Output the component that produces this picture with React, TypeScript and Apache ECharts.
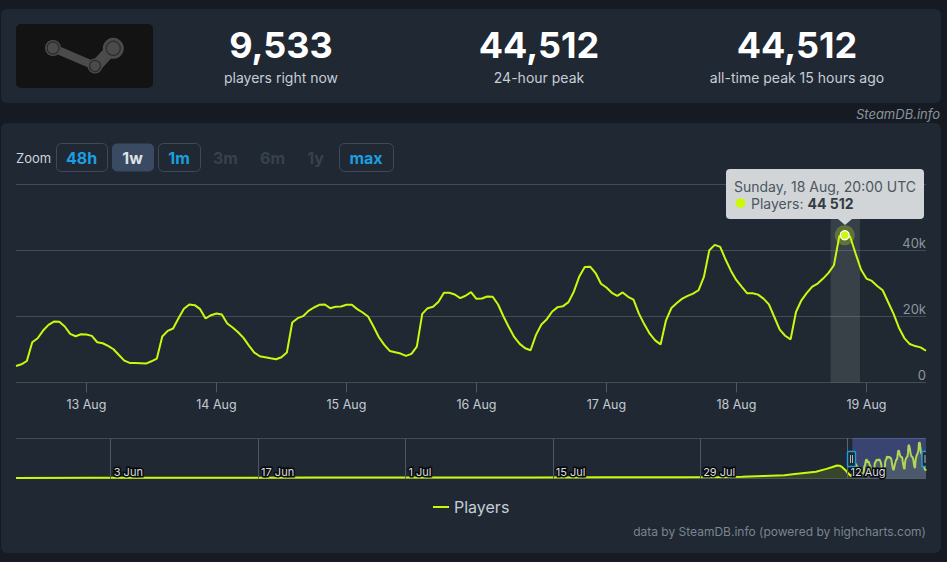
import React, { useEffect, useRef } from "react";
import * as echarts from "echarts";

const HOUR = 3600000;
const YEAR = " 2024 UTC";

const players = [
    5000, 5500, 6500, 12170, 13380, 15700, 17420, 18430, 18330, 16920, 14700, 13990, 14590, 14490,
    14090, 12170, 11870, 11060, 10050, 8330, 6620, 5910, 5910, 5810, 5710, 6410, 7220, 13890,
    15600, 16310, 19440, 22270, 23580, 23380, 22170, 19340, 20350, 20860, 20550, 17830, 16610,
    15200, 13480, 11160, 9040, 7930, 7630, 7320, 7020, 7630, 9040, 18130, 19440, 20050, 21660,
    22670, 23480, 23580, 22470, 22880, 22980, 23480, 23480, 22170, 21160, 19950, 16920, 13690,
    11360, 9540, 9140, 8740, 8030, 8640, 10860, 20760, 22470, 22880, 24390, 27120, 27120, 26610,
    25500, 26210, 27320, 25300, 25400, 26010, 25910, 23580, 19950, 16720, 13690, 11670, 10350,
    9750, 14390, 17520, 19140, 21460, 22780, 23080, 24290, 27520, 32070, 34900, 35000, 33080,
    29850, 28730, 27120, 26210, 27220, 25910, 25050, 20810, 17570, 14750, 12730, 11510, 18790,
    22520, 24040, 25350, 26160, 26870, 27880, 31920, 40000, 41610, 41010, 37170, 33730, 30910,
    28890, 26970, 26970, 26560, 25350, 23630, 19800, 15960, 14140, 13030, 21310, 24850, 27070,
    28990, 29900, 31410, 33130, 35450, 44240, 44512, 44040, 38990, 34140, 31410, 30700, 29190,
    27880, 24340, 20810, 16560, 13430, 11620, 11010, 10610, 9600,
];
const firstHour = "12 Aug 11:00";
const peakHour = "18 Aug 20:00";

// navigator history before the 1w window
const historyDates = [
    "25 May", "1 Jun", "8 Jun", "15 Jun", "22 Jun", "29 Jun", "6 Jul", "13 Jul", "20 Jul", "27 Jul",
    "1 Aug", "2 Aug", "4 Aug", "6 Aug", "7 Aug", "9 Aug", "10 Aug", "10 Aug 12:00", "11 Aug",
    "11 Aug 06:00", "11 Aug 12:00", "11 Aug 20:00", "12 Aug", "12 Aug 08:00",
];
const historyValues = [
    700, 800, 900, 1000, 1100, 1200, 1300, 1300, 1400, 1500,
    2000, 2300, 3100, 3900, 5500, 8300, 11900, 13800, 16000,
    15800, 14000, 10000, 7000, 3000,
];

const dayLabels = ["13 Aug", "14 Aug", "15 Aug", "16 Aug", "17 Aug", "18 Aug", "19 Aug"];
const navLabels = ["3 Jun", "17 Jun", "1 Jul", "15 Jul", "29 Jul", "12 Aug"];
const yLabels: Record<number, string> = { 0: "0", 20000: "20k", 40000: "40k", 60000: "" };

const stats = [
    { value: "9,533", label: "players right now", x: 281 },
    { value: "44,512", label: "24-hour peak", x: 539 },
    { value: "44,512", label: "all-time peak 15 hours ago", x: 797 },
];
const zoomButtons = [
    { text: "48h", x: 56.5, w: 51, state: "on" },
    { text: "1w", x: 112, w: 42, state: "active" },
    { text: "1m", x: 158.5, w: 42, state: "on" },
    { text: "3m", x: 205, w: 42, state: "off" },
    { text: "6m", x: 252, w: 42, state: "off" },
    { text: "1y", x: 300, w: 32, state: "off" },
    { text: "max", x: 339.5, w: 54, state: "on" },
];

const toTime = (s: string) => Date.parse(s + YEAR);
const FONT = "Inter, sans-serif";
const LIME = "#ccf80f";
const PANEL = "#1f2833";

const txt = (text: string, x: number, y: number, size: number, fill: string, extra: any = {}) => ({
    type: "text",
    z: 50,
    silent: true,
    style: {
        text,
        x,
        y,
        fill,
        fontFamily: FONT,
        fontSize: size,
        fontWeight: extra.weight || 400,
        fontStyle: extra.italic ? "italic" : "normal",
        textAlign: extra.align || "center",
        textVerticalAlign: "middle",
    },
});

const logo = () => {
    const gray = "#4b4b4b";
    const ring = "#2c2c2c";
    const bar = (x1: number, y1: number, x2: number, y2: number, w: number) => ({
        type: "line",
        z: -5,
        shape: { x1, y1, x2, y2 },
        style: { stroke: gray, lineWidth: w, lineCap: "round" },
    });
    const dot = (cx: number, cy: number, r: number, inner: number) => [
        { type: "circle", z: -5, shape: { cx, cy, r }, style: { fill: gray } },
        {
            type: "circle",
            z: -4,
            shape: { cx, cy, r: inner },
            style: { fill: gray, stroke: ring, lineWidth: 1.2 },
        },
    ];
    return [
        { type: "rect", z: -8, shape: { x: 16, y: 24, width: 137, height: 64, r: 5 }, style: { fill: "#131313" } },
        bar(53, 48, 95, 66, 8),
        bar(97, 65, 109, 52, 12),
        ...dot(53, 48, 8, 6),
        ...dot(95, 66, 7.5, 5.5),
        ...dot(113.3, 48.3, 10.5, 7),
    ];
};

const App: React.FC = () => {
    const chartRef = useRef<HTMLDivElement>(null);

    useEffect(() => {
        if (!chartRef.current) return;
        const chart = echarts.init(chartRef.current, undefined, { renderer: "svg" });

        const start = toTime(firstHour);
        const mainData = players.map((v, i) => [start + i * HOUR, v]);
        const end = start + (players.length - 1) * HOUR;
        const navData = [
            ...historyDates.map((d, i) => [toTime(d), historyValues[i]]),
            ...mainData,
        ];
        const peak = toTime(peakHour);
        const peakValue = Math.max(...players);
        const dayTicks = dayLabels.map(toTime);
        const navTicks = navLabels.map(toTime);
        const dateLabel = (v: number) => {
            const d = new Date(v);
            return d.getUTCDate() + " " + d.toLocaleString("en", { month: "short", timeZone: "UTC" });
        };

        const buttons: any[] = [];
        zoomButtons.forEach((b) => {
            if (b.state !== "off") {
                buttons.push({
                    type: "rect",
                    z: -5,
                    shape: { x: b.x, y: 143.5, width: b.w, height: 28, r: 5 },
                    style:
                        b.state === "active"
                            ? { fill: "#3a4a62" }
                            : { fill: "none", stroke: "#3d4a58", lineWidth: 1 },
                });
            }
            const color = b.state === "on" ? "#1a9fe0" : b.state === "active" ? "#dfe3e8" : "#36424f";
            buttons.push(txt(b.text, b.x + b.w / 2 - 0.5, 157.5, 16, color, { weight: 700 }));
        });

        const options: any = {
            animation: false,
            backgroundColor: "#161b23",
            textStyle: { fontFamily: FONT },
            legend: {
                data: ["Players"],
                icon: "rect",
                left: 428,
                top: 494,
                itemWidth: 16,
                itemHeight: 2,
                itemGap: 5,
                textStyle: { color: "#c7ced5", fontSize: 16, fontFamily: FONT },
            },
            grid: [
                { left: 16, right: 21, top: 184, height: 198.5 },
                { left: 16, right: 21, top: 438, height: 40.5 },
            ],
            xAxis: [
                {
                    type: "value",
                    gridIndex: 0,
                    min: start,
                    max: end,
                    splitLine: { show: false },
                    axisLine: { show: false },
                    axisTick: {
                        customValues: dayTicks,
                        length: 10,
                        lineStyle: { color: "#4c5762" },
                    },
                    axisLabel: {
                        customValues: dayTicks,
                        formatter: dateLabel,
                        color: "#c3cad1",
                        fontSize: 12.5,
                        fontFamily: FONT,
                        margin: 15,
                    },
                },
                {
                    type: "value",
                    gridIndex: 1,
                    min: toTime(historyDates[0]),
                    max: end,
                    z: 6,
                    splitLine: { show: false },
                    axisLine: { show: false },
                    axisTick: {
                        customValues: navTicks,
                        inside: true,
                        length: 40,
                        lineStyle: { color: "#4c5762" },
                    },
                    axisLabel: {
                        customValues: navTicks,
                        formatter: dateLabel,
                        inside: true,
                        margin: 1,
                        align: "left",
                        padding: [0, 0, 0, 3],
                        color: "#d8dde2",
                        fontSize: 11,
                        fontFamily: FONT,
                        textBorderColor: "#0a0a0a",
                        textBorderWidth: 3,
                    },
                },
            ],
            yAxis: [
                {
                    type: "value",
                    gridIndex: 0,
                    position: "right",
                    min: 0,
                    max: 60000,
                    interval: 20000,
                    axisLine: { show: false },
                    axisTick: { show: false },
                    splitLine: { lineStyle: { color: "#414c57" } },
                    axisLabel: {
                        inside: true,
                        margin: 0,
                        verticalAlign: "bottom",
                        padding: [0, 0, 1, 0],
                        color: "#8c959d",
                        fontSize: 13,
                        fontFamily: FONT,
                        formatter: (v: number) => yLabels[v],
                    },
                },
                {
                    type: "value",
                    gridIndex: 1,
                    min: 0,
                    max: 50000,
                    interval: 50000,
                    axisLine: { show: false },
                    axisTick: { show: false },
                    axisLabel: { show: false },
                    splitLine: { lineStyle: { color: "#414c57" } },
                },
            ],
            series: [
                {
                    name: "Players",
                    type: "line",
                    xAxisIndex: 0,
                    yAxisIndex: 0,
                    data: mainData,
                    showSymbol: false,
                    lineStyle: { color: LIME, width: 2 },
                    itemStyle: { color: LIME },
                    areaStyle: { color: "rgba(204,255,0,0.012)" },
                    markArea: {
                        silent: true,
                        itemStyle: { color: "rgba(205,205,210,0.14)" },
                        data: [[{ xAxis: peak - 2.6 * HOUR }, { xAxis: peak + 2.8 * HOUR }]],
                    },
                    markPoint: {
                        silent: true,
                        symbol: "circle",
                        label: { show: false },
                        data: [
                            {
                                coord: [peak, peakValue],
                                symbolSize: 20,
                                itemStyle: { color: "rgba(204,248,15,0.28)" },
                            },
                            {
                                coord: [peak, peakValue],
                                symbolSize: 9,
                                itemStyle: { color: LIME, borderColor: "#ffffff", borderWidth: 1.2 },
                            },
                        ],
                    },
                },
                {
                    name: "Navigator",
                    type: "line",
                    xAxisIndex: 1,
                    yAxisIndex: 1,
                    data: navData,
                    showSymbol: false,
                    lineStyle: { color: LIME, width: 2 },
                    itemStyle: { color: LIME },
                    areaStyle: { color: "rgba(204,248,15,0.2)" },
                    markArea: {
                        silent: true,
                        z: 5,
                        itemStyle: { color: "rgba(121,137,255,0.3)" },
                        data: [[{ xAxis: start }, { xAxis: end }]],
                    },
                },
            ],
            graphic: {
                elements: [
                    { type: "rect", z: -10, shape: { x: 1, y: 9, width: 940, height: 94, r: 6 }, style: { fill: PANEL } },
                    { type: "rect", z: -10, shape: { x: 1, y: 123, width: 940, height: 430, r: 6 }, style: { fill: PANEL } },
                    ...logo(),
                    ...stats.flatMap((s) => [
                        txt(s.value, s.x, 45, 36, "#ffffff", { weight: 700 }),
                        txt(s.label, s.x, 77.5, 14, "#c7ced5"),
                    ]),
                    txt("SteamDB.info", 940, 113.5, 13, "#8a949c", { italic: true, align: "right" }),
                    txt("Zoom", 16, 158, 13, "#d0d6dc", { align: "left" }),
                    ...buttons,
                    txt("data by SteamDB.info (powered by highcharts.com)", 926, 531, 12, "#7b858f", { align: "right" }),
                    // navigator outline and handles
                    { type: "line", z: 30, shape: { x1: 847.5, y1: 438, x2: 847.5, y2: 478.5 }, style: { stroke: "#5a6570", lineWidth: 1 } },
                    { type: "rect", z: 31, shape: { x: 847.5, y: 451.5, width: 8, height: 15, r: 1 }, style: { fill: "#1f2833", stroke: "#1a9fe0", lineWidth: 1.4 } },
                    { type: "line", z: 32, shape: { x1: 850.5, y1: 455, x2: 850.5, y2: 463 }, style: { stroke: "#aeb8c0", lineWidth: 1 } },
                    { type: "line", z: 32, shape: { x1: 852.5, y1: 455, x2: 852.5, y2: 463 }, style: { stroke: "#aeb8c0", lineWidth: 1 } },
                    { type: "polyline", z: 31, shape: { points: [[926, 451.5], [922, 451.5], [922, 466.5], [926, 466.5]] }, style: { fill: "#1f2833", stroke: "#1a9fe0", lineWidth: 1.4 } },
                    { type: "line", z: 32, shape: { x1: 925, y1: 455, x2: 925, y2: 463 }, style: { stroke: "#aeb8c0", lineWidth: 1 } },
                    // tooltip
                    { type: "rect", z: 40, shape: { x: 726, y: 169, width: 198, height: 50, r: 4 }, style: { fill: "#d1d5d7" } },
                    { type: "polygon", z: 40, shape: { points: [[838, 219], [852, 219], [845, 225]] }, style: { fill: "#d1d5d7" } },
                    txt("Sunday, 18 Aug, 20:00 UTC", 734, 186, 14, "#4d5660", { align: "left" }),
                    { type: "circle", z: 41, shape: { cx: 740.5, cy: 203, r: 5 }, style: { fill: LIME } },
                    txt("Players: ", 751, 203, 14, "#4d5660", { align: "left" }),
                    txt("44 512", 807.5, 203, 14, "#333b44", { align: "left", weight: 700 }),
                ],
            },
        };

        chart.setOption(options);

        return () => {
            chart.dispose();
        };
    }, []);

    return (
        <div
            ref={chartRef}
            style={{ position: "absolute", left: 0, top: 0, width: 947, height: 562 }}
        />
    );
};

export default App;
